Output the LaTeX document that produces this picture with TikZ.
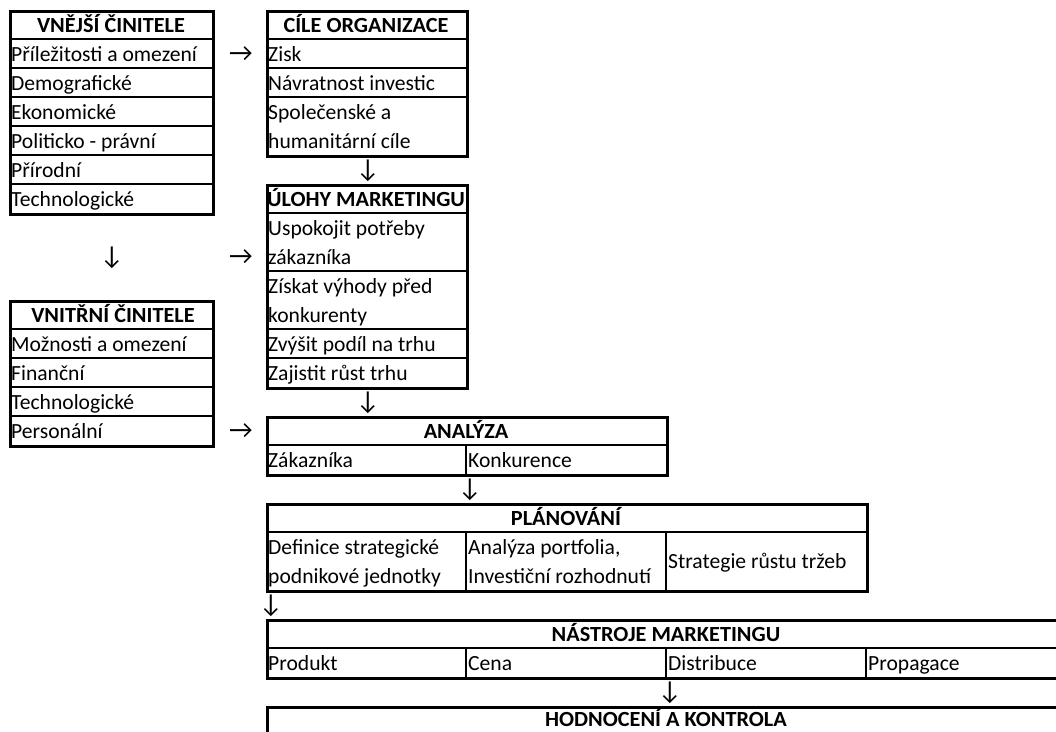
\documentclass[tikz,border=0pt]{standalone}
\usepackage{fontspec}
\setmainfont{Carlito}[BoldFeatures={FakeStretch=1.03}]
\begin{document}
\begin{tikzpicture}[x=1pt,y=-1pt,
  tbl/.style={draw, line width=2.6pt, rectangle, inner sep=0pt, anchor=north west},
  inl/.style={line width=1.8pt},
  txt/.style={anchor=base west, inner sep=0pt, font=\fontsize{21.6}{29}\selectfont},
  hdr/.style={anchor=base, inner sep=0pt, font=\fontsize{21.6}{29}\selectfont\bfseries},
  arr/.style={anchor=base, inner sep=0pt, font=\fontsize{26}{29}\selectfont}]
\useasboundingbox (0,0) rectangle (1056,731);
\clip (0,0) rectangle (1056,731);
% ---------- VNEJSI CINITELE ----------
\foreach \y in {39,68,97,126,155,184} \draw[inl] (9,\y) -- (212,\y);
\node[tbl, minimum width=203pt, minimum height=203pt] (ve) at (9,10) {};
\node[hdr] (veh) at (111,32) {VNĚJŠÍ ČINITELE};
\node[txt] (ve1) at (11,61) {Příležitosti a omezení};
\node[txt] (ve2) at (11,90) {Demografické};
\node[txt] (ve3) at (11,119) {Ekonomické};
\node[txt] (ve4) at (11,148) {Politicko - právní};
\node[txt] (ve5) at (11,177) {Přírodní};
\node[txt] (ve6) at (11,206) {Technologické};
\node[arr] (a1) at (241,61) {→};
\node[arr] (a2) at (112,264) {↓};
\node[arr] (a3) at (241,264) {→};
% ---------- VNITRNI CINITELE ----------
\foreach \y in {329,358,387,416} \draw[inl] (9,\y) -- (212,\y);
\node[tbl, minimum width=203pt, minimum height=145pt] (vn) at (9,300) {};
\node[hdr] (vnh) at (113,322) {VNITŘNÍ ČINITELE};
\node[txt] (vn1) at (11,351) {Možnosti a omezení};
\node[txt] (vn2) at (11,380) {Finanční};
\node[txt] (vn3) at (11,409) {Technologické};
\node[txt] (vn4) at (11,438) {Personální};
\node[arr] (a4) at (241,438) {→};
% ---------- CILE ORGANIZACE ----------
\foreach \y in {39,68,97} \draw[inl] (266,\y) -- (466,\y);
\node[tbl, minimum width=200pt, minimum height=145pt] (co) at (266,10) {};
\node[hdr] (coh) at (366,32) {CÍLE ORGANIZACE};
\node[txt] (co1) at (268,61) {Zisk};
\node[txt] (co2) at (268,90) {Návratnost investic};
\node[txt] (co3) at (268,119) {Společenské a};
\node[txt] (co3b) at (268,148) {humanitární cíle};
\node[arr] (a5) at (368,177) {↓};
% ---------- ULOHY MARKETINGU ----------
\foreach \y in {213,271,329,358} \draw[inl] (266,\y) -- (466,\y);
\node[tbl, minimum width=200pt, minimum height=203pt] (um) at (266,184) {};
\node[hdr] (umh) at (366,206) {ÚLOHY MARKETINGU};
\node[txt] (um1) at (268,235) {Uspokojit potřeby};
\node[txt] (um1b) at (268,264) {zákazníka};
\node[txt] (um2) at (268,293) {Získat výhody před};
\node[txt] (um2b) at (268,322) {konkurenty};
\node[txt] (um3) at (268,351) {Zvýšit podíl na trhu};
\node[txt] (um4) at (268,380) {Zajistit růst trhu};
\node[arr] (a6) at (368,409) {↓};
% ---------- ANALYZA ----------
\draw[inl] (266,445) -- (666,445);
\draw[inl] (466,445) -- (466,474);
\node[tbl, minimum width=400pt, minimum height=58pt] (an) at (266,416) {};
\node[hdr] (anh) at (466,438) {ANALÝZA};
\node[txt] (an1) at (268,467) {Zákazníka};
\node[txt] (an2) at (468,467) {Konkurence};
\node[arr] (a7) at (470,496) {↓};
% ---------- PLANOVANI ----------
\draw[inl] (266,532) -- (866,532);
\draw[inl] (466,532) -- (466,590);
\draw[inl] (666,532) -- (666,590);
\node[tbl, minimum width=600pt, minimum height=87pt] (pl) at (266,503) {};
\node[hdr] (plh) at (566,525) {PLÁNOVÁNÍ};
\node[txt] (pl1) at (268,554) {Definice strategické};
\node[txt] (pl1b) at (268,583) {podnikové jednotky};
\node[txt] (pl2) at (468,554) {Analýza portfolia,};
\node[txt] (pl2b) at (468,583) {Investiční rozhodnutí};
\node[txt] (pl3) at (668,568.5) {Strategie růstu tržeb};
\node[arr] (a8) at (271,612) {↓};
% ---------- NASTROJE MARKETINGU ----------
\draw[inl] (266,648) -- (1066,648);
\foreach \x in {466,666,866} \draw[inl] (\x,648) -- (\x,677);
\node[tbl, minimum width=800pt, minimum height=58pt] (nm) at (266,619) {};
\node[hdr] (nmh) at (666,641) {NÁSTROJE MARKETINGU};
\node[txt] (nm1) at (268,670) {Produkt};
\node[txt] (nm2) at (468,670) {Cena};
\node[txt] (nm3) at (668,670) {Distribuce};
\node[txt] (nm4) at (868,670) {Propagace};
\node[arr] (a9) at (670,699) {↓};
% ---------- HODNOCENI A KONTROLA ----------
\node[tbl, minimum width=800pt, minimum height=29pt] (hk) at (266,706) {};
\node[hdr] (hkh) at (666,726) {HODNOCENÍ A KONTROLA};
\end{tikzpicture}
\end{document}
